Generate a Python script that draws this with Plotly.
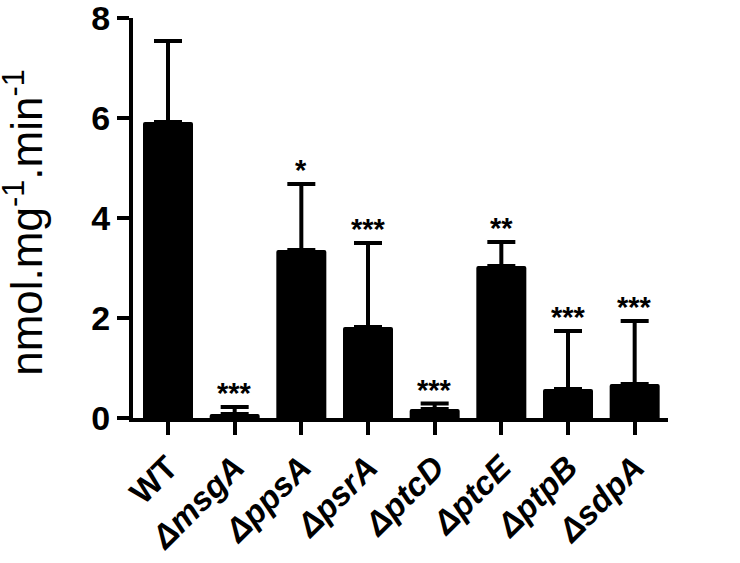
import plotly.graph_objects as go

categories = ["WT", "ΔmsgA", "ΔppsA", "ΔpsrA", "ΔptcD", "ΔptcE", "ΔptpB", "ΔsdpA"]
means = [5.92, 0.08, 3.36, 1.82, 0.18, 3.04, 0.58, 0.68]
upper = [7.54, 0.22, 4.68, 3.50, 0.29, 3.52, 1.74, 1.94]
stars = ["", "***", "*", "***", "***", "**", "***", "***"]
y_ticks = [0, 2, 4, 6, 8]

tick_text = ["<b>WT</b>"] + ["<b><i>%s</i></b>" % c for c in categories[1:]]
err_plus = [u - m for u, m in zip(upper, means)]

fig = go.Figure()
fig.add_trace(go.Bar(
    x=list(range(len(categories))), y=means,
    marker=dict(color="black", line=dict(width=0)),
    width=0.75,
    error_y=dict(type="data", symmetric=False, array=err_plus,
                 arrayminus=[0] * len(means), color="black",
                 thickness=4, width=14),
))

for i, s in enumerate(stars):
    if s:
        fig.add_annotation(x=i, y=upper[i], text="<b>%s</b>" % s, showarrow=False,
                           xanchor="center", yanchor="bottom", yshift=-4,
                           font=dict(family="Liberation Sans", size=29, color="black"))

fig.add_annotation(xref="paper", yref="paper", x=-0.206, y=0.49,
                   text="nmol.mg<sup>-1</sup>.min<sup>-1</sup>", textangle=-90,
                   showarrow=False, xanchor="center", yanchor="middle",
                   font=dict(family="Liberation Sans", size=44, color="black"))

fig.update_layout(
    width=740, height=563,
    margin=dict(l=133, r=72, t=18, b=145),
    plot_bgcolor="white", paper_bgcolor="white",
    showlegend=False,
    barcornerradius=2,
    font=dict(family="Liberation Sans", color="black"),
)
fig.update_xaxes(
    range=[-0.525, 7.5], automargin=False,
    tickmode="array", tickvals=list(range(len(categories))), ticktext=tick_text,
    tickangle=-45, ticklabeloverflow="allow",
    showline=True, linecolor="black", linewidth=4,
    ticks="outside", ticklen=13, tickwidth=4, tickcolor="black",
    tickfont=dict(family="Liberation Sans", size=33, color="black"),
    showgrid=False, zeroline=False,
)
fig.update_yaxes(
    range=[0, 8], automargin=False,
    tickvals=y_ticks, ticktext=["<b>%d</b>" % v for v in y_ticks],
    ticklabeloverflow="allow",
    showline=True, linecolor="black", linewidth=4,
    ticks="outside", ticklen=12, tickwidth=4, tickcolor="black",
    tickfont=dict(family="Liberation Sans", size=34, color="black"),
    showgrid=False, zeroline=False,
)

fig.write_html("out.html", config={"displayModeBar": False},
               post_script="document.body.style.margin='0';document.body.style.overflow='hidden';")
